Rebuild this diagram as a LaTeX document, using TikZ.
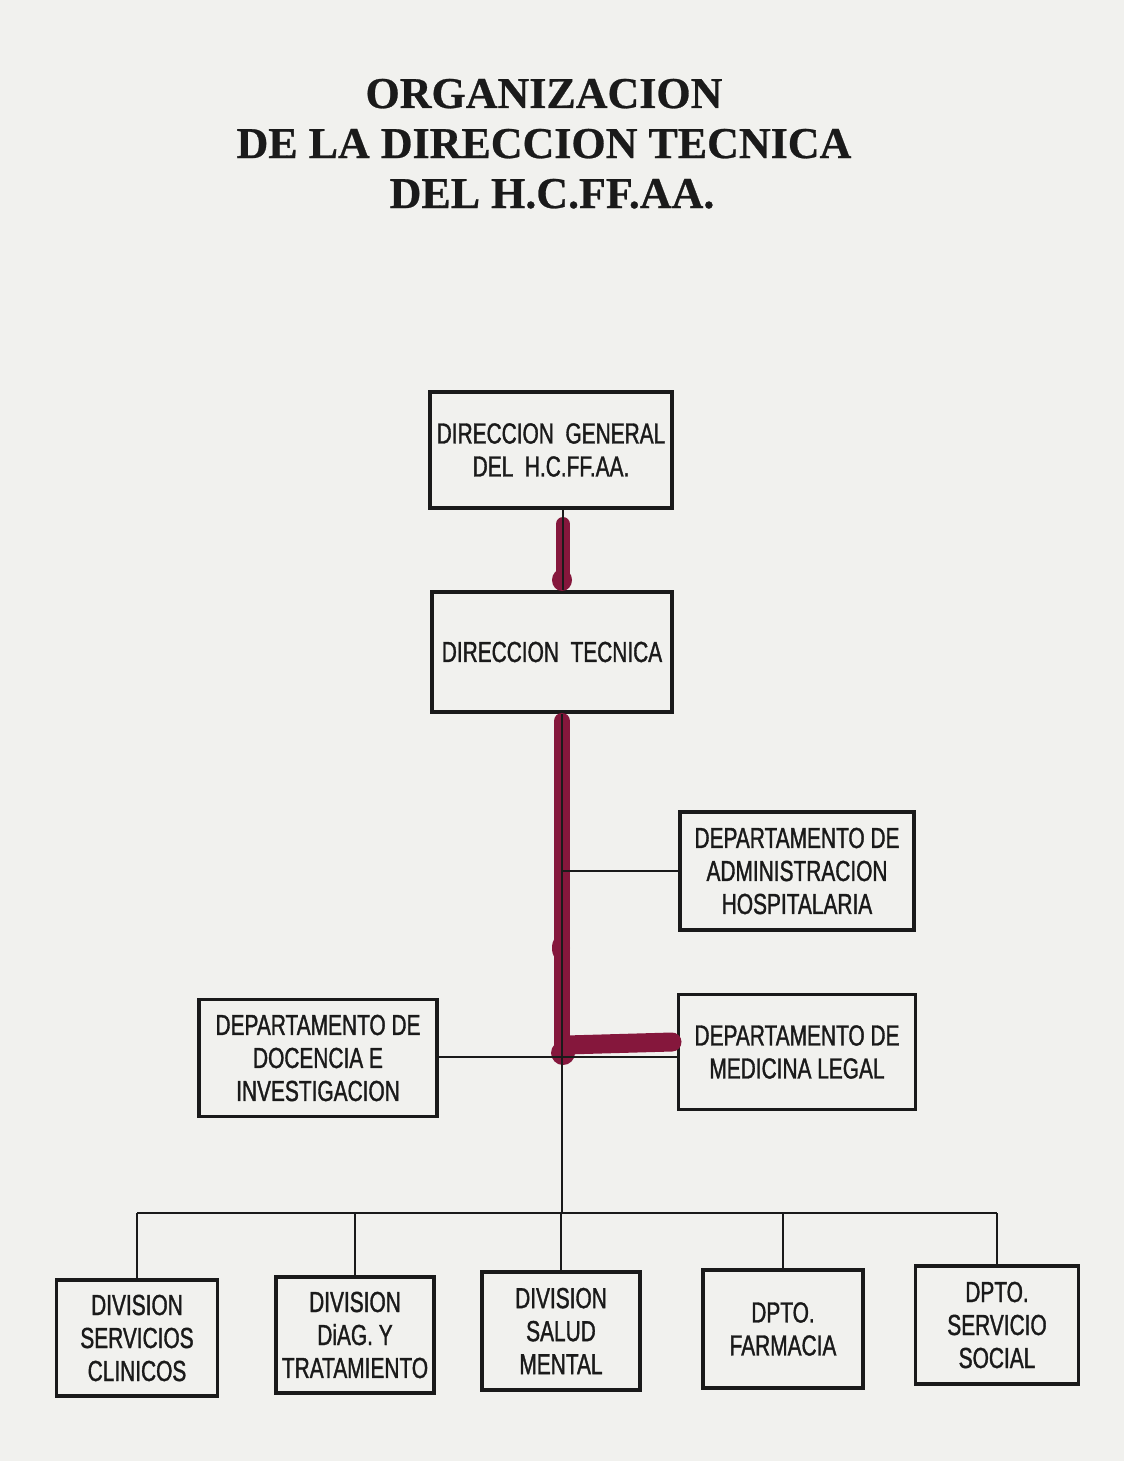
\documentclass[tikz,border=0pt]{standalone}
\usepackage{fontspec}
\newfontfamily\boxfont{Liberation Sans}[FakeStretch=0.72,FakeBold=1.2]
\newfontfamily\titlefont{Liberation Serif}[FakeBold=0.6]
\definecolor{paper}{HTML}{F1F1EE}
\definecolor{ink}{HTML}{1A1A1A}
\definecolor{marker}{HTML}{85173C}
\begin{document}
\begin{tikzpicture}[x=1pt,y=-1pt,
  orgbox/.style={draw=ink, line width=3.6pt, rectangle, inner sep=0pt, align=center,
    text=ink, font=\boxfont\fontsize{29}{33}\selectfont},
  conn/.style={draw=ink, line width=2.4pt},
  hilite/.style={draw=marker, line cap=round},
  ttl/.style={anchor=base, text=ink, font=\titlefont\bfseries\fontsize{44}{50}\selectfont}]
\fill[paper] (0,0) rectangle (1124,1461);
\useasboundingbox (0,0) rectangle (1124,1461);

% title
\node[ttl] (t1) at (544,108) {ORGANIZACION};
\node[ttl] (t2) at (544,158) {DE LA DIRECCION TECNICA};
\node[ttl] (t3) at (552,208) {DEL H.C.FF.AA.};

% boxes
\node[orgbox, minimum width=242pt, minimum height=116pt] (dg) at (551,450)
  {DIRECCION\ \ GENERAL\\DEL\ \ H.C.FF.AA.};
\node[orgbox, minimum width=240pt, minimum height=120pt] (dt) at (552,652)
  {DIRECCION\ \ TECNICA};
\node[orgbox, minimum width=234pt, minimum height=118pt] (adm) at (797,871)
  {DEPARTAMENTO DE\\ADMINISTRACION\\HOSPITALARIA};
\node[orgbox, minimum width=237pt, minimum height=115pt] (leg) at (797,1052)
  {DEPARTAMENTO DE\\MEDICINA LEGAL};
\node[orgbox, minimum width=238pt, minimum height=117pt] (doc) at (318,1058)
  {DEPARTAMENTO DE\\DOCENCIA E\\INVESTIGACION};
\node[orgbox, minimum width=161pt, minimum height=116pt] (clin) at (137,1338)
  {DIVISION\\SERVICIOS\\CLINICOS};
\node[orgbox, minimum width=158pt, minimum height=116pt] (diag) at (355,1335)
  {DIVISION\\DiAG. Y\\TRATAMIENTO};
\node[orgbox, minimum width=158pt, minimum height=118pt] (sal) at (561,1331)
  {DIVISION\\SALUD\\MENTAL};
\node[orgbox, minimum width=160pt, minimum height=118pt] (far) at (783,1329)
  {DPTO.\\FARMACIA};
\node[orgbox, minimum width=163pt, minimum height=118pt] (soc) at (997,1325)
  {DPTO.\\SERVICIO\\SOCIAL};

\coordinate (c) at (563,0);
\coordinate (bus) at (562,1213);

% red highlight marks
\draw[hilite, line width=14pt] (563,524) -- (563,578);
\fill[marker] (562,580) ellipse (10pt and 11pt);
\draw[hilite, line width=16pt] (562,721) -- (562,1048);
\fill[marker] (561,948) ellipse (9pt and 14pt);
\draw[hilite, line width=19pt] (566,1045) -- (672,1042);
\fill[marker] (563,1053) circle (12pt);

% connectors
\draw[conn] (dg.south -| c) -- (dt.north -| c);
\draw[conn] (dt.south -| bus) -- (bus);
\draw[conn] (bus |- adm.west) -- (adm.west);
\draw[conn] (doc.east |- 0,1057) -- (leg.west |- 0,1057);
\draw[conn] (clin.north |- bus) -- (soc.north |- bus);
\draw[conn] (clin.north |- bus) -- (clin.north);
\draw[conn] (diag.north |- bus) -- (diag.north);
\draw[conn] (sal.north |- bus) -- (sal.north);
\draw[conn] (far.north |- bus) -- (far.north);
\draw[conn] (soc.north |- bus) -- (soc.north);
\end{tikzpicture}
\end{document}
